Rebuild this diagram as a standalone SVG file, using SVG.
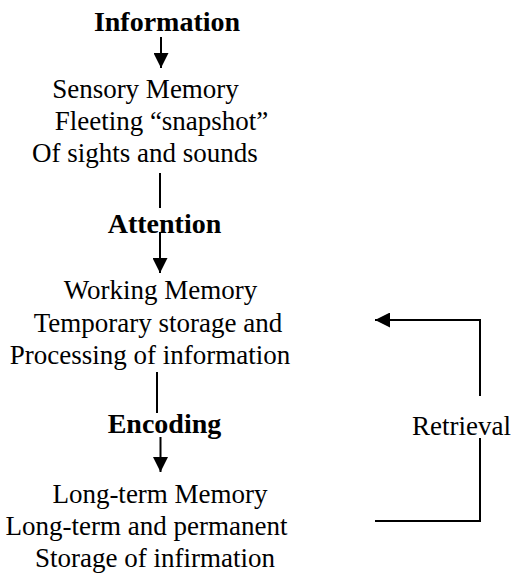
<svg xmlns="http://www.w3.org/2000/svg" width="518" height="573" viewBox="0 0 518 573">
<style>
text{font-size:27px;fill:#000;text-anchor:middle}
.b{font-weight:bold;font-size:28px}
.c{stroke:#000;stroke-width:2;fill:none}
</style>
<defs>
<marker id="ah" viewBox="0 0 10 10" refX="10" refY="5" markerWidth="15" markerHeight="15" markerUnits="userSpaceOnUse" orient="auto">
<path d="M0,0 L10,5 L0,10 z" fill="#000"/>
</marker>
</defs>
<rect width="518" height="573" fill="#fff"/>
<g font-family="Liberation Serif, Times New Roman, DejaVu Serif, serif">
<g id="information"><text class="b" x="167" y="31">Information</text></g>
<g id="sensory"><text x="145.5" y="98">Sensory Memory</text><text x="161.5" y="130">Fleeting “snapshot”</text><text x="145" y="162">Of sights and sounds</text></g>
<g id="attention"><text class="b" x="164.5" y="233">Attention</text></g>
<g id="working"><text x="160.5" y="299">Working Memory</text><text x="158" y="332">Temporary storage and</text><text x="150" y="364">Processing of information</text></g>
<g id="encoding"><text class="b" x="164.5" y="433">Encoding</text></g>
<g id="retrieval"><text x="461.5" y="435">Retrieval</text></g>
<g id="longterm"><text x="160" y="503">Long-term Memory</text><text x="146.5" y="535">Long-term and permanent</text><text x="155" y="567">Storage of infirmation</text></g>
</g>
<g id="connectors">
<line class="c" x1="161" y1="37" x2="161" y2="68" marker-end="url(#ah)"/>
<line class="c" x1="160" y1="173" x2="160" y2="208"/>
<line class="c" x1="160" y1="232" x2="160" y2="273" marker-end="url(#ah)"/>
<line class="c" x1="157" y1="372" x2="157" y2="413"/>
<line class="c" x1="160.5" y1="437" x2="160.5" y2="472" marker-end="url(#ah)"/>
<polyline class="c" points="480,396 480,320 375,320" marker-end="url(#ah)"/>
<polyline class="c" points="480,438 480,521 375,521"/>
</g>
</svg>
